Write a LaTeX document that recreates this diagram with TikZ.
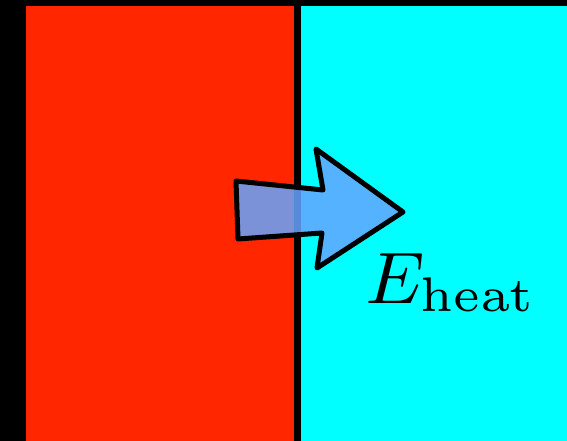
\documentclass[tikz,border=0pt]{standalone}
\definecolor{hotred}{RGB}{255,38,0}
\definecolor{purecyan}{RGB}{0,255,255}
\definecolor{arrowblue}{RGB}{100,165,255}
\begin{document}
\begin{tikzpicture}[x=1pt,y=-1pt,
  arrowfill/.style={fill=arrowblue,fill opacity=0.85,draw=black,line width=5pt,line join=round}]
\fill[black] (0,0) rectangle (567,441);
\useasboundingbox (0,0) rectangle (567,441);
\fill[hotred] (26,6) rectangle (293.5,441);
\fill[purecyan] (300.5,6) rectangle (567,441);
\coordinate (t1) at (236,181);
\coordinate (t2) at (323,190);
\coordinate (h1) at (316,149);
\coordinate (tip) at (403,212);
\coordinate (h2) at (317,268);
\coordinate (b2) at (322,233);
\coordinate (b1) at (238,239);
\draw[arrowfill] (t1) -- (t2) -- (h1) -- (tip) -- (h2) -- (b2) -- (b1) -- cycle;
\node[anchor=base west,inner sep=0,scale=8.11] (lbl) at (364,303) {\small$E_{\mathrm{heat}}$};
\end{tikzpicture}
\end{document}
